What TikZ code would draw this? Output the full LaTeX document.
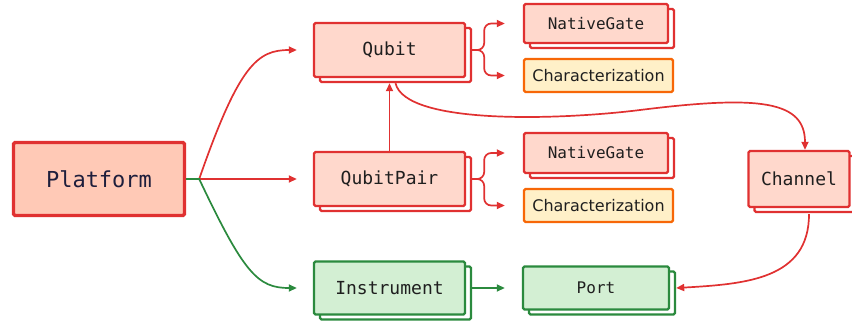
\documentclass[tikz,border=0pt]{standalone}
\usepackage{fontspec}
\setmainfont{DejaVu Sans}
\setsansfont{DejaVu Sans}
\setmonofont{DejaVu Sans Mono}
\usepackage{tikz}
\usetikzlibrary{positioning,shadows,arrows.meta}
\definecolor{ered}{HTML}{E03131}
\definecolor{egreen}{HTML}{2B8A3E}
\definecolor{eorange}{HTML}{F76707}
\definecolor{pinkfill}{HTML}{FFC9B6}
\definecolor{rosefill}{HTML}{FFD8CC}
\definecolor{mintfill}{HTML}{D3EFD3}
\definecolor{creamfill}{HTML}{FFF0C8}
\definecolor{navy}{HTML}{1E1E3C}

\begin{document}
\begin{tikzpicture}[x=1pt,y=-1pt,>={Triangle[length=8pt,width=7pt]},
    every node/.style={on grid},
    box/.style={draw,rounded corners=1.5pt,line width=2.4pt,inner sep=0pt,
      font=\ttfamily\fontsize{18}{20}\selectfont,text=black!88},
    stack/.style={copy shadow={shadow xshift=6pt,shadow yshift=-5pt,fill=white,draw=#1,line width=2.2pt}},
    redbox/.style={box,draw=ered,fill=rosefill,stack=ered},
    greenbox/.style={box,draw=egreen,fill=mintfill,stack=egreen},
    small/.style={font=\ttfamily\fontsize{16}{18}\selectfont},
    link/.style={->,line width=1.7pt,ered}]
  \useasboundingbox (0,0) rectangle (852,325);
  % left root
  \node[box,draw=ered,fill=pinkfill,line width=3.4pt,minimum width=171pt,minimum height=73pt,
    font=\ttfamily\fontsize{22}{24}\selectfont,text=navy] (platform) at (99,179) {Platform};
  % middle column
  \node[redbox,right=290.5pt of platform,minimum width=151pt,minimum height=54pt] (pair) {QubitPair};
  \node[redbox,above=129pt of pair,minimum width=151pt,minimum height=54pt] (qubit) {Qubit};
  \node[greenbox,below=109pt of pair,minimum width=151pt,minimum height=53pt] (instr) {Instrument};
  % right column
  \node[redbox,small,above right=26.5pt and 206.5pt of qubit,minimum width=144pt,minimum height=39pt] (gate1) {NativeGate};
  \node[box,draw=eorange,fill=creamfill,font=\sffamily\fontsize{16}{18}\selectfont,
    below right=25.5pt and 209pt of qubit,minimum width=149pt,minimum height=33pt] (char1) {Characterization};
  \node[redbox,small,above right=26pt and 206.5pt of pair,minimum width=144pt,minimum height=40pt] (gate2) {NativeGate};
  \node[box,draw=eorange,fill=creamfill,font=\sffamily\fontsize{16}{18}\selectfont,
    below right=26.5pt and 209pt of pair,minimum width=149pt,minimum height=33pt] (char2) {Characterization};
  \node[greenbox,small,right=206.5pt of instr,minimum width=146pt,minimum height=43pt] (port) {Port};
  \node[redbox,right=409.5pt of pair,minimum width=101pt,minimum height=56pt] (channel) {Channel};
  % fan out of the root
  \coordinate (fork) at ([xshift=13pt]platform.east);
  \draw[link,shorten >=16pt] (fork) .. controls +(40,-115) and +(-55,0) .. (qubit.west);
  \draw[link,shorten >=16pt] (fork) -- (pair.west);
  \draw[link,egreen,shorten >=16pt] (platform.east) -- (fork)
    .. controls +(45,95) and +(-55,0) .. (instr.west);
  % brackets
  \draw[link,rounded corners=7pt,shorten >=18pt] ([xshift=6pt]qubit.east) -- ++(12,0) |- (gate1.west);
  \draw[link,rounded corners=7pt,shorten >=18pt] ([xshift=6pt]qubit.east) -- ++(12,0) |- (char1.west);
  \draw[link,rounded corners=7pt,shorten >=18pt] ([xshift=6pt]pair.east) -- ++(12,0) |- (gate2.west);
  \draw[link,rounded corners=7pt,shorten >=18pt] ([xshift=6pt]pair.east) -- ++(12,0) |- (char2.west);
  % other links
  \draw[link] (pair.north) -- ([yshift=-5pt]qubit.south);
  \coordinate (dip) at (640,110);
  \draw[link] ([xshift=6pt,yshift=-5pt]qubit.south) .. controls +(10,42) and +(-80,10) .. (dip)
    .. controls +(120,-15) and +(0,-49) .. ([xshift=6pt]channel.north);
  \draw[link,egreen,shorten >=17pt] ([xshift=6pt]instr.east) -- (port.west);
  \draw[link] ([xshift=10pt,yshift=-6pt]channel.south) .. controls +(0,65) and +(70,-4) .. ([xshift=6pt]port.east);
\end{tikzpicture}
\end{document}
